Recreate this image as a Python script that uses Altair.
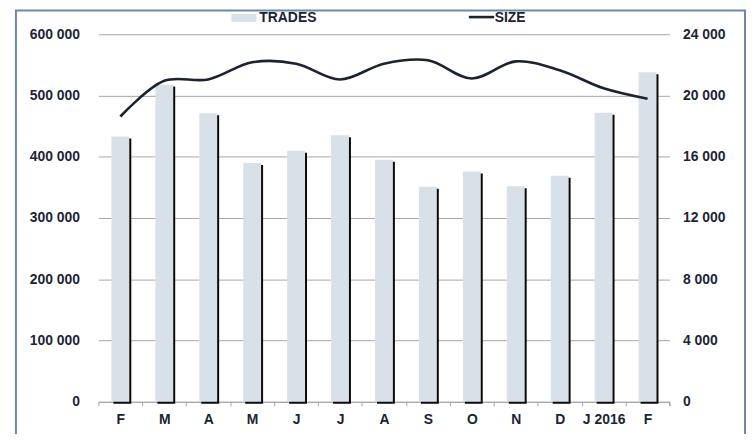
import json
import altair as alt
import pandas as pd

# ---- data ----
months = ["F", "M", "A", "M", "J", "J", "A", "S", "O", "N", "D", "J 2016", "F"]
trades = [433000, 518000, 471000, 390000, 410000, 435000, 395000,
          351000, 376000, 352000, 369000, 472000, 538000]
size = [18630, 20960, 21050, 22170, 22080, 21050, 22080,
        22300, 21110, 22230, 21650, 20470, 19790]
left_ticks = [0, 100000, 200000, 300000, 400000, 500000, 600000]
right_ticks = [0, 4000, 8000, 12000, 16000, 20000, 24000]

df = pd.DataFrame({"idx": list(range(len(months))), "trades": trades, "size": size})
one = pd.DataFrame({"k": [0]})

FONT = "Liberation Sans"
TXT = "#1B2433"
GRID = "#A6A6A6"
FRAME = "#6E87A6"
BAR = "#D8E0E8"
FS = 14

label_expr = json.dumps(months) + "[datum.value]"
num_expr = "replace(format(datum.value, ','), regexp(',', 'g'), ' ')"

x_enc = alt.X(
    "idx:O",
    scale=alt.Scale(paddingInner=0, paddingOuter=0),
    axis=alt.Axis(
        title=None, labelExpr=label_expr, labelAngle=0, tickBand="extent",
        domainColor=GRID, tickColor=GRID, tickSize=4, grid=False,
        labelFont=FONT, labelFontSize=FS, labelFontWeight="bold",
        labelColor=TXT, labelPadding=7,
    ),
)

left_axis = alt.Axis(
    title=None, values=left_ticks, labelExpr=num_expr, orient="left",
    domain=False, ticks=False, grid=True, gridColor=GRID, gridWidth=1,
    labelFont=FONT, labelFontSize=FS, labelFontWeight="bold",
    labelColor=TXT, labelPadding=19,
)

shadow = alt.Chart(df).mark_bar(size=18, color="#0A0A0A", xOffset=2, yOffset=2).encode(
    x=x_enc,
    y=alt.Y("trades:Q", scale=alt.Scale(domain=[0, 600000]), axis=left_axis),
)

bars = alt.Chart(df).mark_bar(size=18, color=BAR).encode(
    x=x_enc,
    y=alt.Y("trades:Q", scale=alt.Scale(domain=[0, 600000]), axis=left_axis),
)

line = alt.Chart(df).mark_line(
    color="#1A2332", strokeWidth=2.6, interpolate="catmull-rom"
).encode(
    x=x_enc,
    y=alt.Y(
        "size:Q",
        scale=alt.Scale(domain=[0, 24000]),
        axis=alt.Axis(
            title=None, values=right_ticks, labelExpr=num_expr, orient="right",
            domain=False, ticks=False, grid=False,
            labelFont=FONT, labelFontSize=FS, labelFontWeight="bold",
            labelColor=TXT, labelPadding=13,
        ),
    ),
)

# frame around the chart
frame_left = alt.Chart(one).mark_rule(color=FRAME, strokeWidth=2).encode(
    x=alt.value(-83), y=alt.value(-24), y2=alt.value(420))
frame_right = alt.Chart(one).mark_rule(color=FRAME, strokeWidth=2).encode(
    x=alt.value(651), y=alt.value(-24), y2=alt.value(420))
frame_top = alt.Chart(one).mark_rule(color=FRAME, strokeWidth=2).encode(
    x=alt.value(-84), x2=alt.value(652), y=alt.value(-24))

# end tick of x axis
end_tick = alt.Chart(one).mark_rule(color=GRID, strokeWidth=1).encode(
    x=alt.value(575), y=alt.value(370), y2=alt.value(374))

# legend
leg_rect = alt.Chart(one).mark_rect(color=BAR).encode(
    x=alt.value(134), x2=alt.value(159), y=alt.value(-20.5), y2=alt.value(-12.5))
leg_text1 = alt.Chart(one).mark_text(
    text="TRADES", align="left", baseline="middle", font=FONT, fontSize=FS,
    fontWeight="bold", color=TXT).encode(x=alt.value(162), y=alt.value(-16.5))
leg_line = alt.Chart(one).mark_rule(color="#1A2332", strokeWidth=2.6).encode(
    x=alt.value(373), x2=alt.value(398.5), y=alt.value(-17.3))
leg_text2 = alt.Chart(one).mark_text(
    text="SIZE", align="left", baseline="middle", font=FONT, fontSize=FS,
    fontWeight="bold", color=TXT).encode(x=alt.value(399), y=alt.value(-16.5))

bar_layer = alt.layer(shadow, bars)

chart = (
    alt.layer(bar_layer, line, frame_left, frame_right, frame_top, end_tick,
              leg_rect, leg_text1, leg_line, leg_text2)
    .resolve_scale(y="independent")
    .properties(
        width=575, height=370,
        autosize=alt.AutoSizeParams(type="none"),
        padding={"left": 91, "top": 25, "right": 78, "bottom": 31},
        background="white",
    )
    .configure_view(strokeWidth=0)
)

chart.save("out.html", embed_options={"renderer": "svg", "actions": False})
